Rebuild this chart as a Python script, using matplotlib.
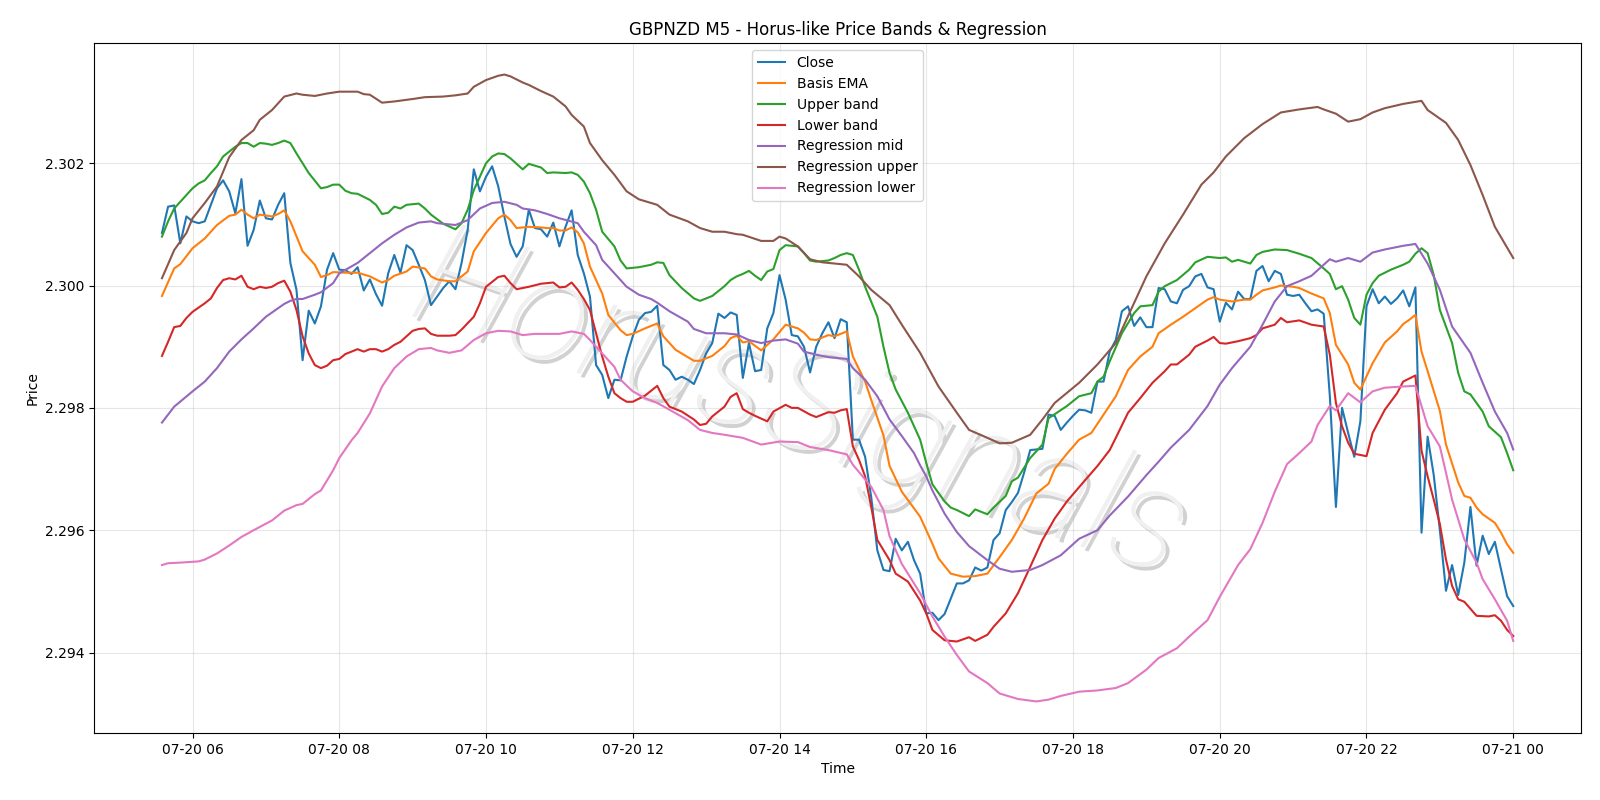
import numpy as np
import pandas as pd
import matplotlib
matplotlib.use("Agg")
import matplotlib.pyplot as plt
import matplotlib.dates as mdates
import matplotlib.patheffects as pe

# GBPNZD M5 bars, first bar 2025-07-20 05:35, one value per 5 minutes
start = pd.Timestamp("2025-07-20 05:35")

close = [
    2.30086, 2.30129, 2.30131, 2.30069, 2.30113, 2.30105, 2.30102, 2.30105, 2.30132, 2.30159,
    2.30172, 2.30154, 2.30118, 2.30174, 2.30065, 2.30091, 2.30139, 2.30110, 2.30108, 2.30132,
    2.30151, 2.30037, 2.29993, 2.29878, 2.29959, 2.29938, 2.29966, 2.30026, 2.30053, 2.30026,
    2.30025, 2.30019, 2.30030, 2.29992, 2.30010, 2.29986, 2.29967, 2.30020, 2.30050, 2.30021,
    2.30066, 2.30058, 2.30034, 2.30009, 2.29968, 2.29982, 2.29996, 2.30007, 2.29994, 2.30037,
    2.30091, 2.30190, 2.30154, 2.30178, 2.30195, 2.30162, 2.30113, 2.30068, 2.30047, 2.30064,
    2.30124, 2.30094, 2.30092, 2.30080, 2.30103, 2.30064, 2.30096, 2.30123, 2.30050, 2.30020,
    2.29982, 2.29870, 2.29854, 2.29816, 2.29846, 2.29845, 2.29884, 2.29917, 2.29944, 2.29955,
    2.29957, 2.29967, 2.29870, 2.29862, 2.29846, 2.29851, 2.29846, 2.29839, 2.29862, 2.29889,
    2.29906, 2.29954, 2.29947, 2.29956, 2.29952, 2.29849, 2.29906, 2.29860, 2.29862, 2.29930,
    2.29955, 2.30017, 2.29977, 2.29919, 2.29917, 2.29900, 2.29858, 2.29900, 2.29922, 2.29940,
    2.29914, 2.29945, 2.29940, 2.29748, 2.29748, 2.29720, 2.29654, 2.29567, 2.29535, 2.29533,
    2.29586, 2.29567, 2.29581, 2.29551, 2.29529, 2.29464, 2.29465, 2.29453, 2.29463, 2.29488,
    2.29513, 2.29513, 2.29518, 2.29539, 2.29534, 2.29539, 2.29584, 2.29595, 2.29633, 2.29646,
    2.29661, 2.29694, 2.29731, 2.29732, 2.29733, 2.29789, 2.29787, 2.29764, 2.29776, 2.29787,
    2.29797, 2.29796, 2.29792, 2.29843, 2.29843, 2.29892, 2.29911, 2.29958, 2.29966, 2.29934,
    2.29948, 2.29932, 2.29932, 2.29996, 2.29994, 2.29974, 2.29971, 2.29993, 2.29999, 2.30015,
    2.30019, 2.29997, 2.29994, 2.29941, 2.29972, 2.29961, 2.29990, 2.29978, 2.29978, 2.30024,
    2.30032, 2.30007, 2.30024, 2.30019, 2.29985, 2.29983, 2.29985, 2.29971, 2.29958, 2.29961,
    2.29954, 2.29820, 2.29638, 2.29800, 2.29759, 2.29720, 2.29778, 2.29966, 2.29994, 2.29971,
    2.29982, 2.29970, 2.29979, 2.29992, 2.29966, 2.29997, 2.29596, 2.29753, 2.29690, 2.29600,
    2.29501, 2.29543, 2.29494, 2.29547, 2.29638, 2.29542, 2.29591, 2.29561, 2.29581, 2.29536,
    2.29492, 2.29476,
]

# smooth series: bar index -> value
ema_idx = [0, 2, 3, 5, 7, 9, 11, 12, 13, 14, 15, 16, 18, 19, 20, 21, 23, 25, 26, 27, 28, 30, 32, 34,
           36, 37, 38, 40, 41, 43, 44, 45, 47, 48, 50, 51, 53, 55, 56, 57, 58, 60, 62, 63, 64, 65,
           66, 67, 68, 69, 70, 72, 73, 75, 76, 77, 79, 81, 82, 84, 87, 88, 90, 92, 93, 94, 95, 96,
           98, 100, 102, 104, 105, 106, 107, 109, 110, 112, 113, 115, 116, 118, 119, 121, 124, 126,
           127, 129, 131, 133, 135, 137, 139, 141, 143, 145, 146, 148, 150, 152, 154, 156, 158, 160,
           162, 163, 165, 167, 169, 171, 172, 173, 175, 177, 178, 179, 180, 182, 183, 185, 186, 188,
           190, 191, 192, 194, 195, 196, 198, 200, 202, 203, 204, 205, 206, 207, 209, 210, 212, 213,
           214, 215, 216, 218, 219, 220, 221]
ema_val = [2.29983, 2.30028, 2.30035, 2.30061, 2.30077, 2.30099, 2.30114, 2.30116, 2.30124, 2.30116,
           2.30110, 2.30116, 2.30113, 2.30117, 2.30123, 2.30105, 2.30056, 2.30034, 2.30014, 2.30017,
           2.30022, 2.30021, 2.30021, 2.30015, 2.30005, 2.30009, 2.30016, 2.30023, 2.30031, 2.30028,
           2.30015, 2.30010, 2.30007, 2.30007, 2.30023, 2.30056, 2.30086, 2.30110, 2.30116, 2.30107,
           2.30094, 2.30096, 2.30095, 2.30094, 2.30094, 2.30090, 2.30090, 2.30095, 2.30087, 2.30069,
           2.30031, 2.29987, 2.29952, 2.29927, 2.29919, 2.29921, 2.29930, 2.29938, 2.29917, 2.29895,
           2.29877, 2.29877, 2.29885, 2.29901, 2.29914, 2.29918, 2.29907, 2.29909, 2.29894, 2.29912,
           2.29936, 2.29930, 2.29923, 2.29912, 2.29911, 2.29919, 2.29917, 2.29925, 2.29884, 2.29843,
           2.29813, 2.29755, 2.29705, 2.29663, 2.29622, 2.29578, 2.29554, 2.29529, 2.29524, 2.29525,
           2.29529, 2.29556, 2.29584, 2.29619, 2.29660, 2.29676, 2.29700, 2.29725, 2.29748, 2.29759,
           2.29789, 2.29819, 2.29862, 2.29884, 2.29900, 2.29922, 2.29936, 2.29949, 2.29963, 2.29977,
           2.29981, 2.29977, 2.29974, 2.29977, 2.29977, 2.29985, 2.29992, 2.29997, 2.30000, 2.29998,
           2.29996, 2.29987, 2.29979, 2.29955, 2.29903, 2.29871, 2.29841, 2.29830, 2.29873, 2.29907,
           2.29925, 2.29937, 2.29944, 2.29952, 2.29892, 2.29860, 2.29795, 2.29740, 2.29678, 2.29656,
           2.29653, 2.29637, 2.29626, 2.29612, 2.29596, 2.29577, 2.29563]

upper_idx = [0, 1, 2, 3, 5, 6, 7, 8, 9, 10, 11, 12, 13, 14, 15, 16, 17, 18, 19, 20, 21, 22, 23, 24,
             26, 27, 28, 29, 30, 31, 32, 34, 35, 36, 37, 38, 39, 40, 42, 43, 44, 46, 48, 49, 50, 51,
             52, 53, 54, 55, 56, 57, 59, 60, 62, 63, 64, 66, 67, 68, 69, 70, 71, 72, 74, 75, 76, 78,
             80, 81, 82, 83, 85, 87, 88, 90, 92, 93, 94, 95, 96, 97, 98, 99, 100, 101, 102, 104, 105,
             106, 107, 109, 110, 111, 112, 113, 114, 115, 117, 118, 119, 120, 122, 124, 125, 126, 128,
             129, 130, 132, 133, 135, 136, 138, 139, 140, 142, 144, 145, 148, 150, 152, 153, 154, 155,
             157, 159, 160, 162, 163, 164, 166, 168, 169, 171, 173, 174, 175, 176, 178, 179, 180, 182,
             184, 186, 188, 190, 191, 192, 193, 194, 195, 196, 197, 198, 199, 201, 203, 204, 205, 206,
             207, 208, 209, 211, 212, 213, 214, 216, 217, 219, 220, 221]
upper_val = [2.30080, 2.30105, 2.30126, 2.30137, 2.30159, 2.30167, 2.30172, 2.30184, 2.30195, 2.30211,
             2.30219, 2.30227, 2.30233, 2.30233, 2.30227, 2.30233, 2.30232, 2.30230, 2.30233, 2.30237,
             2.30233, 2.30216, 2.30200, 2.30184, 2.30159, 2.30161, 2.30165, 2.30165, 2.30155, 2.30151,
             2.30150, 2.30140, 2.30132, 2.30117, 2.30119, 2.30129, 2.30126, 2.30132, 2.30134, 2.30126,
             2.30116, 2.30101, 2.30092, 2.30102, 2.30124, 2.30156, 2.30178, 2.30200, 2.30211, 2.30216,
             2.30215, 2.30208, 2.30190, 2.30199, 2.30193, 2.30184, 2.30185, 2.30184, 2.30185, 2.30181,
             2.30170, 2.30151, 2.30124, 2.30088, 2.30064, 2.30041, 2.30028, 2.30030, 2.30034, 2.30038,
             2.30037, 2.30017, 2.29996, 2.29979, 2.29975, 2.29983, 2.29999, 2.30009, 2.30015, 2.30019,
             2.30024, 2.30016, 2.30009, 2.30023, 2.30027, 2.30058, 2.30066, 2.30064, 2.30053, 2.30041,
             2.30039, 2.30041, 2.30045, 2.30050, 2.30053, 2.30050, 2.30026, 2.29998, 2.29949, 2.29900,
             2.29857, 2.29830, 2.29792, 2.29748, 2.29710, 2.29675, 2.29647, 2.29637, 2.29633, 2.29623,
             2.29634, 2.29626, 2.29637, 2.29656, 2.29680, 2.29686, 2.29718, 2.29740, 2.29783, 2.29803,
             2.29819, 2.29824, 2.29843, 2.29851, 2.29876, 2.29922, 2.29955, 2.29966, 2.29968, 2.29990,
             2.29999, 2.30009, 2.30026, 2.30038, 2.30047, 2.30045, 2.30046, 2.30039, 2.30042, 2.30036,
             2.30050, 2.30055, 2.30059, 2.30058, 2.30052, 2.30045, 2.30028, 2.30019, 2.29994, 2.29999,
             2.29977, 2.29947, 2.29936, 2.29985, 2.30004, 2.30016, 2.30026, 2.30034, 2.30039, 2.30052,
             2.30061, 2.30053, 2.30017, 2.29960, 2.29906, 2.29857, 2.29827, 2.29822, 2.29794, 2.29770,
             2.29752, 2.29726, 2.29698]

lower_idx = [0, 1, 2, 3, 4, 5, 7, 8, 9, 10, 11, 12, 13, 14, 15, 16, 17, 18, 19, 20, 21, 22, 23, 24,
             25, 26, 27, 28, 29, 30, 31, 32, 33, 34, 35, 36, 37, 38, 39, 40, 41, 42, 43, 44, 45, 47,
             48, 49, 51, 52, 53, 55, 56, 57, 58, 59, 60, 62, 64, 65, 66, 67, 68, 69, 70, 71, 72, 73,
             74, 75, 76, 77, 79, 80, 81, 82, 83, 85, 87, 88, 89, 90, 92, 93, 94, 95, 96, 97, 99, 100,
             102, 103, 104, 106, 107, 109, 110, 111, 112, 113, 114, 115, 116, 117, 119, 120, 122, 124,
             125, 126, 128, 130, 132, 133, 135, 136, 138, 140, 142, 144, 146, 148, 151, 153, 155, 156,
             158, 160, 162, 164, 165, 166, 168, 169, 171, 172, 173, 174, 176, 178, 179, 180, 182, 183,
             184, 186, 188, 190, 191, 192, 193, 194, 195, 197, 198, 200, 202, 203, 205, 206, 207, 208,
             209, 210, 211, 212, 213, 215, 217, 218, 219, 220, 221]
lower_val = [2.29885, 2.29908, 2.29932, 2.29934, 2.29947, 2.29957, 2.29971, 2.29979, 2.29996, 2.30009,
             2.30012, 2.30010, 2.30016, 2.29998, 2.29994, 2.29998, 2.29996, 2.29998, 2.30004, 2.30008,
             2.29990, 2.29960, 2.29917, 2.29889, 2.29870, 2.29865, 2.29869, 2.29878, 2.29880, 2.29888,
             2.29892, 2.29896, 2.29892, 2.29896, 2.29896, 2.29892, 2.29896, 2.29903, 2.29908, 2.29917,
             2.29926, 2.29929, 2.29930, 2.29921, 2.29918, 2.29918, 2.29919, 2.29928, 2.29949, 2.29971,
             2.29998, 2.30014, 2.30016, 2.30004, 2.29994, 2.29996, 2.29998, 2.30003, 2.30005, 2.29997,
             2.29998, 2.30005, 2.29993, 2.29978, 2.29960, 2.29922, 2.29884, 2.29851, 2.29824, 2.29816,
             2.29810, 2.29810, 2.29820, 2.29828, 2.29836, 2.29816, 2.29802, 2.29794, 2.29781, 2.29772,
             2.29774, 2.29786, 2.29802, 2.29818, 2.29824, 2.29798, 2.29792, 2.29787, 2.29778, 2.29794,
             2.29805, 2.29800, 2.29800, 2.29789, 2.29785, 2.29793, 2.29792, 2.29796, 2.29798, 2.29737,
             2.29715, 2.29688, 2.29638, 2.29584, 2.29551, 2.29529, 2.29516, 2.29485, 2.29464, 2.29437,
             2.29420, 2.29418, 2.29425, 2.29419, 2.29429, 2.29442, 2.29464, 2.29497, 2.29540, 2.29584,
             2.29619, 2.29647, 2.29682, 2.29705, 2.29731, 2.29751, 2.29792, 2.29816, 2.29841, 2.29860,
             2.29871, 2.29871, 2.29887, 2.29900, 2.29910, 2.29916, 2.29906, 2.29905, 2.29909, 2.29914,
             2.29919, 2.29930, 2.29936, 2.29947, 2.29940, 2.29943, 2.29936, 2.29933, 2.29887, 2.29808,
             2.29770, 2.29743, 2.29725, 2.29721, 2.29759, 2.29797, 2.29824, 2.29843, 2.29853, 2.29730,
             2.29688, 2.29650, 2.29610, 2.29552, 2.29509, 2.29487, 2.29483, 2.29460, 2.29459, 2.29461,
             2.29452, 2.29437, 2.29427]

reg_mid_idx = [0, 2, 5, 7, 9, 11, 13, 15, 17, 20, 21, 22, 23, 25, 26, 28, 29, 32, 34, 36, 38, 40, 42,
               44, 45, 48, 50, 52, 54, 56, 58, 59, 61, 63, 65, 68, 69, 71, 72, 74, 76, 78, 80, 81, 83,
               86, 87, 89, 92, 94, 96, 98, 100, 102, 104, 105, 107, 109, 112, 113, 115, 117, 119, 121,
               123, 124, 125, 126, 128, 130, 132, 135, 137, 139, 142, 144, 147, 150, 153, 155, 158,
               161, 163, 165, 168, 171, 173, 175, 178, 180, 182, 184, 186, 188, 190, 191, 192, 194,
               196, 198, 200, 203, 205, 207, 209, 211, 214, 216, 218, 220, 221]
reg_mid_val = [2.29776, 2.29802, 2.29827, 2.29843, 2.29865, 2.29892, 2.29912, 2.29930, 2.29949,
               2.29970, 2.29975, 2.29978, 2.29978, 2.29985, 2.29989, 2.30004, 2.30020, 2.30037,
               2.30053, 2.30069, 2.30083, 2.30095, 2.30103, 2.30105, 2.30102, 2.30099, 2.30107,
               2.30126, 2.30135, 2.30137, 2.30132, 2.30126, 2.30123, 2.30117, 2.30110, 2.30102,
               2.30088, 2.30066, 2.30042, 2.30020, 2.29998, 2.29985, 2.29978, 2.29972, 2.29958,
               2.29941, 2.29929, 2.29922, 2.29922, 2.29920, 2.29911, 2.29906, 2.29910, 2.29912,
               2.29905, 2.29892, 2.29887, 2.29883, 2.29880, 2.29865, 2.29846, 2.29819, 2.29781,
               2.29754, 2.29726, 2.29706, 2.29688, 2.29665, 2.29627, 2.29597, 2.29574, 2.29551,
               2.29537, 2.29532, 2.29535, 2.29543, 2.29559, 2.29586, 2.29600, 2.29624, 2.29655,
               2.29690, 2.29712, 2.29735, 2.29764, 2.29803, 2.29838, 2.29865, 2.29900, 2.29936,
               2.29974, 2.29999, 2.30007, 2.30016, 2.30034, 2.30043, 2.30039, 2.30045, 2.30039,
               2.30054, 2.30059, 2.30065, 2.30068, 2.30036, 2.29993, 2.29933, 2.29890, 2.29841,
               2.29794, 2.29759, 2.29732]

reg_up_idx = [0, 2, 4, 5, 7, 9, 11, 13, 15, 16, 18, 20, 22, 23, 25, 27, 29, 32, 33, 34, 36, 38, 41,
              43, 46, 48, 50, 51, 53, 55, 56, 57, 59, 60, 62, 64, 66, 67, 69, 70, 72, 74, 76, 78, 81,
              83, 86, 88, 90, 92, 94, 95, 98, 100, 101, 102, 104, 106, 108, 112, 114, 116, 119, 121,
              124, 127, 130, 132, 135, 137, 139, 142, 144, 146, 150, 153, 156, 158, 161, 164, 167,
              170, 172, 174, 177, 180, 183, 186, 189, 190, 192, 194, 196, 198, 200, 203, 206, 207,
              210, 212, 214, 216, 218, 221]
reg_up_val = [2.30012, 2.30058, 2.30086, 2.30110, 2.30135, 2.30162, 2.30210, 2.30238, 2.30254,
              2.30271, 2.30287, 2.30309, 2.30314, 2.30312, 2.30310, 2.30314, 2.30317, 2.30317,
              2.30313, 2.30312, 2.30299, 2.30301, 2.30305, 2.30308, 2.30309, 2.30311, 2.30314,
              2.30325, 2.30336, 2.30343, 2.30345, 2.30342, 2.30332, 2.30328, 2.30318, 2.30309,
              2.30293, 2.30279, 2.30260, 2.30233, 2.30205, 2.30181, 2.30154, 2.30141, 2.30132,
              2.30116, 2.30105, 2.30094, 2.30088, 2.30088, 2.30084, 2.30083, 2.30073, 2.30073,
              2.30080, 2.30077, 2.30064, 2.30043, 2.30038, 2.30034, 2.30015, 2.29993, 2.29968,
              2.29936, 2.29890, 2.29835, 2.29792, 2.29764, 2.29751, 2.29742, 2.29743, 2.29756,
              2.29781, 2.29808, 2.29841, 2.29871, 2.29906, 2.29950, 2.30015, 2.30069, 2.30116,
              2.30165, 2.30185, 2.30211, 2.30241, 2.30264, 2.30283, 2.30288, 2.30292, 2.30288,
              2.30281, 2.30268, 2.30272, 2.30283, 2.30290, 2.30297, 2.30302, 2.30287, 2.30266,
              2.30238, 2.30197, 2.30148, 2.30096, 2.30045]

reg_lo_idx = [0, 1, 3, 6, 7, 9, 11, 13, 15, 18, 20, 22, 23, 25, 26, 28, 29, 31, 32, 34, 36, 38, 40,
              42, 44, 45, 47, 49, 51, 53, 55, 57, 59, 61, 63, 65, 67, 69, 70, 72, 74, 75, 77, 79, 81,
              83, 86, 88, 90, 92, 95, 98, 101, 104, 106, 109, 112, 113, 115, 116, 118, 119, 121, 124,
              126, 128, 130, 132, 135, 137, 140, 143, 145, 147, 150, 153, 156, 158, 161, 163, 166,
              168, 171, 173, 176, 178, 180, 182, 184, 186, 188, 189, 191, 192, 194, 196, 198, 200,
              203, 205, 206, 207, 209, 210, 211, 213, 215, 216, 218, 220, 221]
reg_lo_val = [2.29543, 2.29546, 2.29547, 2.29549, 2.29552, 2.29562, 2.29575, 2.29589, 2.29600,
              2.29616, 2.29632, 2.29641, 2.29643, 2.29659, 2.29665, 2.29698, 2.29718, 2.29747,
              2.29759, 2.29791, 2.29835, 2.29865, 2.29884, 2.29896, 2.29898, 2.29894, 2.29890,
              2.29894, 2.29911, 2.29922, 2.29926, 2.29925, 2.29919, 2.29921, 2.29921, 2.29921,
              2.29925, 2.29921, 2.29911, 2.29889, 2.29867, 2.29846, 2.29827, 2.29816, 2.29808,
              2.29797, 2.29780, 2.29764, 2.29759, 2.29756, 2.29751, 2.29740, 2.29745, 2.29744,
              2.29736, 2.29731, 2.29724, 2.29707, 2.29683, 2.29671, 2.29633, 2.29590, 2.29545,
              2.29497, 2.29459, 2.29426, 2.29396, 2.29369, 2.29350, 2.29333, 2.29324, 2.29320,
              2.29323, 2.29329, 2.29336, 2.29338, 2.29342, 2.29350, 2.29372, 2.29391, 2.29407,
              2.29426, 2.29453, 2.29491, 2.29543, 2.29569, 2.29612, 2.29663, 2.29708, 2.29726,
              2.29745, 2.29772, 2.29803, 2.29796, 2.29824, 2.29809, 2.29827, 2.29833, 2.29835,
              2.29836, 2.29803, 2.29770, 2.29737, 2.29694, 2.29650, 2.29585, 2.29547, 2.29520,
              2.29487, 2.29452, 2.29419]


def bar_time(idx):
    return start + pd.to_timedelta(np.asarray(idx) * 5, unit="min")


fig, ax = plt.subplots(figsize=(16, 8), dpi=100)
fig.subplots_adjust(left=0.059, right=0.988, bottom=0.084, top=0.946)

ax.plot(bar_time(np.arange(len(close))), close, label="Close")
ax.plot(bar_time(ema_idx), ema_val, label="Basis EMA")
ax.plot(bar_time(upper_idx), upper_val, label="Upper band")
ax.plot(bar_time(lower_idx), lower_val, label="Lower band")
ax.plot(bar_time(reg_mid_idx), reg_mid_val, label="Regression mid")
ax.plot(bar_time(reg_up_idx), reg_up_val, label="Regression upper")
ax.plot(bar_time(reg_lo_idx), reg_lo_val, label="Regression lower")

# watermark
ax.text(0.475, 0.47, "HorusSignals", transform=ax.transAxes, fontsize=104,
        family=["Roboto", "DejaVu Sans"], fontweight="light", style="italic",
        color="#f0f0f0", rotation=-19, ha="center", va="center", zorder=0,
        path_effects=[pe.withSimplePatchShadow(offset=(3, -3), shadow_rgbFace="#999999", alpha=0.45),
                      pe.Normal()])

ax.set_title("GBPNZD M5 - Horus-like Price Bands & Regression")
ax.set_xlabel("Time")
ax.set_ylabel("Price")
ax.grid(True, alpha=0.3)
ax.legend(loc="upper center")
ax.xaxis.set_major_locator(mdates.HourLocator(byhour=range(0, 24, 2)))
ax.xaxis.set_major_formatter(mdates.DateFormatter("%m-%d %H"))

fig.savefig("out.png")
